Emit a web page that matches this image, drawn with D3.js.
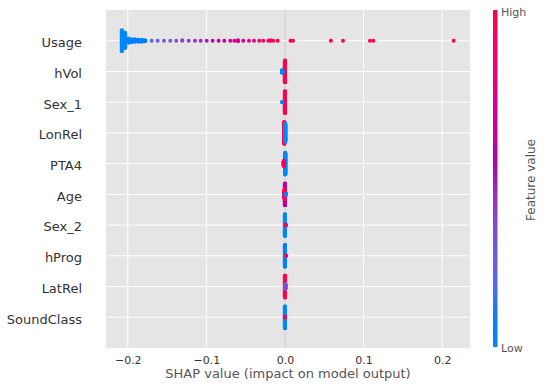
<!DOCTYPE html>
<html>
<head>
<meta charset="utf-8">
<script src="https://cdn.jsdelivr.net/npm/d3@7"></script>
<style>
  body { margin: 0; background: #fff; }
  text { font-family: "DejaVu Sans", sans-serif; }
</style>
</head>
<body>
<svg id="chart"></svg>
<script>
// features, top to bottom
const features = ['Usage', 'hVol', 'Sex_1', 'LonRel', 'PTA4', 'Age', 'Sex_2', 'hProg', 'LatRel', 'SoundClass'];

// point groups: [shap value, feature value (0 low .. 1 high), samples]
const usagePts = [
    [-0.2075, 0, 41], [-0.2033, 0, 30], [-0.1990, 0.02, 9], [-0.1948, 0.03, 7],
    [-0.1906, 0.04, 6], [-0.1863, 0.05, 5], [-0.1821, 0.06, 5], [-0.1779, 0.08, 3],
    [-0.1696, 0.22, 1], [-0.1620, 0.24, 1], [-0.1539, 0.27, 1], [-0.1459, 0.30, 1],
    [-0.1383, 0.33, 1], [-0.1307, 0.36, 2], [-0.1225, 0.40, 1], [-0.1145, 0.43, 1],
    [-0.1073, 0.46, 1], [-0.0996, 0.50, 1], [-0.0920, 0.53, 1], [-0.0844, 0.57, 1],
    [-0.0772, 0.60, 1], [-0.0696, 0.64, 1], [-0.0645, 0.67, 1], [-0.0598, 0.70, 3],
    [-0.0531, 0.74, 1], [-0.0458, 0.78, 1], [-0.0394, 0.82, 1], [-0.0327, 0.86, 1],
    [-0.0276, 0.90, 1], [-0.0212, 0.94, 1], [-0.0182, 0.96, 2], [-0.0149, 0.98, 1],
    [-0.0093, 1, 1], [0.0070, 1, 1], [0.0102, 1, 1], [0.0585, 1, 1],
    [0.0738, 1, 1], [0.1081, 1, 1], [0.1123, 1, 1], [0.2146, 1, 1]
];
const hVolPts = [[0.0, 1, 121], [-0.0035, 0, 15]];
const sex1Pts = [[0.0, 1, 121], [-0.0035, 0, 3]];
const lonRelPts = [[-0.0008, 1, 121], [0.0003, 0, 100]];
const pta4Pts = [[0.0003, 0, 121], [-0.0015, 1, 28]];
const agePts = [[0.0, 0.6, 121], [-0.0005, 1, 50], [0.0012, 0, 8]];
const sex2Pts = [[0.0, 0, 121], [0.001, 1, 5]];
const hProgPts = [[0.0, 0.05, 121], [0.0015, 1, 2]];
const latRelPts = [[0.0, 1, 121], [0.0004, 0.35, 30]];
const soundClassPts = [[0.0, 0, 16], [0.0, 1, 24], [0.0, 0, 81]];

const rows = [usagePts, hVolPts, sex1Pts, lonRelPts, pta4Pts, agePts, sex2Pts, hProgPts, latRelPts, soundClassPts];

const xTicks = [-0.2, -0.1, 0, 0.1, 0.2];
const xDomain = [-0.2277, 0.2354];

const width = 546, height = 388;
const margin = { top: 10, right: 76, bottom: 40, left: 106 };
const innerW = width - margin.left - margin.right;
const innerH = height - margin.top - margin.bottom;

// blue -> purple -> red, interpolated in lch like shap's red_blue map
function redBlue(t) {
    const l = t < 0.5 ? 54 - 28 * t : 40 + 28 * (t - 0.5);
    return d3.hcl(267 + 113 * t, 70 + 20 * t, l).formatHex();
}

// beeswarm offsets, binned per row
function swarm(groups) {
    const pts = [];
    groups.forEach(g => { for (let i = 0; i < g[2]; i++) pts.push({ v: g[0], c: g[1] }); });
    const lo = d3.min(pts, d => d.v), hi = d3.max(pts, d => d.v);
    pts.forEach(d => d.q = Math.round(100 * (d.v - lo) / (hi - lo + 1e-8)));
    const order = d3.range(pts.length).sort((a, b) => pts[a].q - pts[b].q || a - b);
    let layer = 0, last = -1;
    order.forEach(i => {
        if (pts[i].q !== last) layer = 0;
        pts[i].ys = Math.ceil(layer / 2) * ((layer % 2) * 2 - 1);
        layer++;
        last = pts[i].q;
    });
    const m = d3.max(pts, d => d.ys + 1);
    pts.forEach(d => d.ys *= 0.9 * 0.4 / m);
    return pts;
}

const svg = d3.select('#chart').attr('width', width).attr('height', height);
const chart = svg.append('g').attr('transform', `translate(${margin.left}, ${margin.top})`);

const xscale = d3.scaleLinear().domain(xDomain).range([0, innerW]);
const yscale = d3.scaleLinear().domain([-1, features.length]).range([innerH, 0]);
const rowPos = i => features.length - 1 - i;

chart.append('rect')
    .attr('width', innerW).attr('height', innerH)
    .attr('fill', '#e5e5e5');

chart.append('line')
    .attr('x1', xscale(0)).attr('x2', xscale(0))
    .attr('y1', 0).attr('y2', innerH)
    .attr('stroke', '#999999').attr('stroke-width', 1.3);

chart.append('g').selectAll('line')
    .data(xTicks).join('line')
    .attr('x1', d => xscale(d)).attr('x2', d => xscale(d))
    .attr('y1', 0).attr('y2', innerH)
    .attr('stroke', '#ffffff').attr('stroke-width', 1);

chart.append('g').selectAll('line')
    .data(features).join('line')
    .attr('x1', 0).attr('x2', innerW)
    .attr('y1', (d, i) => yscale(rowPos(i))).attr('y2', (d, i) => yscale(rowPos(i)))
    .attr('stroke', '#ffffff').attr('stroke-width', 1);

rows.forEach((groups, i) => {
    chart.append('g').selectAll('circle')
        .data(swarm(groups)).join('circle')
        .attr('cx', d => xscale(d.v))
        .attr('cy', d => yscale(rowPos(i) + d.ys))
        .attr('r', 2)
        .attr('fill', d => redBlue(d.c));
});

// axes
const xaxis = d3.axisBottom(xscale).tickValues(xTicks).tickFormat(d3.format('.1f')).tickSize(0).tickPadding(8);
const xg = chart.append('g').attr('transform', `translate(0, ${innerH})`).call(xaxis);
xg.select('.domain').remove();
xg.selectAll('text').attr('font-size', 11).attr('fill', '#333333').attr('font-family', '"DejaVu Sans", sans-serif');

const yaxis = d3.axisLeft(yscale).tickValues(d3.range(features.length)).tickFormat(d => features[features.length - 1 - d]).tickSize(0).tickPadding(24);
const yg = chart.append('g').call(yaxis);
yg.select('.domain').remove();
yg.selectAll('text').attr('font-size', 13).attr('fill', '#333333').attr('dy', '0.45em').attr('font-family', '"DejaVu Sans", sans-serif');

svg.append('text')
    .attr('x', margin.left + innerW / 2).attr('y', 378)
    .attr('text-anchor', 'middle')
    .attr('font-size', 13).attr('fill', '#555555')
    .text('SHAP value (impact on model output)');

// colour bar
const grad = svg.append('defs').append('linearGradient')
    .attr('id', 'cbar').attr('x1', 0).attr('y1', 1).attr('x2', 0).attr('y2', 0);
grad.selectAll('stop')
    .data(d3.range(0, 1.0001, 0.05)).join('stop')
    .attr('offset', d => d)
    .attr('stop-color', d => redBlue(d));

svg.append('rect')
    .attr('x', 493).attr('y', margin.top)
    .attr('width', 4.5).attr('height', innerH - 1)
    .attr('fill', 'url(#cbar)');

svg.append('text').attr('x', 501).attr('y', 15.5)
    .attr('font-size', 11).attr('fill', '#555555').text('High');
svg.append('text').attr('x', 501).attr('y', 352)
    .attr('font-size', 11).attr('fill', '#555555').text('Low');
svg.append('text')
    .attr('transform', 'translate(531, 180) rotate(-90)')
    .attr('text-anchor', 'middle').attr('dy', '0.35em')
    .attr('font-size', 12).attr('fill', '#555555')
    .text('Feature value');
</script>
</body>
</html>
